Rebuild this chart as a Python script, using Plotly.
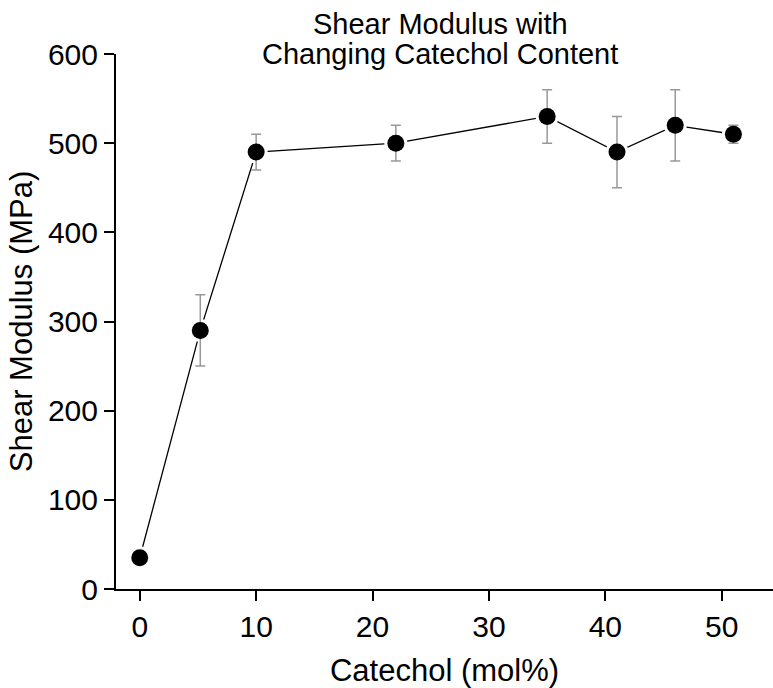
import plotly.graph_objects as go

catechol = [0, 5.2, 10, 22, 35, 41, 46, 51]
modulus = [35, 290, 490, 500, 530, 490, 520, 510]
err = [6, 40, 20, 20, 30, 40, 40, 10]

x_ticks = [0, 10, 20, 30, 40, 50]
y_ticks = [0, 100, 200, 300, 400, 500, 600]

title_lines = ["Shear Modulus with", "Changing Catechol Content"]

FONT = "Liberation Sans, Arial, sans-serif"

fig = go.Figure()
fig.add_trace(go.Scatter(x=catechol, y=modulus, mode="lines",
                         line=dict(color="black", width=1.3), showlegend=False, hoverinfo="skip"))
fig.add_trace(go.Scatter(x=catechol, y=modulus, mode="markers",
                         marker=dict(color="white", size=23), showlegend=False, hoverinfo="skip"))
fig.add_trace(go.Scatter(x=catechol, y=modulus, mode="markers",
                         marker=dict(color="black", size=17),
                         error_y=dict(type="data", array=err, visible=True,
                                      color="#999999", thickness=1.5, width=5),
                         showlegend=False))

fig.update_layout(
    width=773, height=688,
    margin=dict(l=116, r=0, t=54, b=99),
    plot_bgcolor="white", paper_bgcolor="white",
    font=dict(family=FONT, size=30, color="black"),
)
# two-line title
fig.add_annotation(text=title_lines[0], xref="paper", yref="paper",
                   x=(440 - 116) / 657, y=(589 - 24) / 535, xanchor="center", yanchor="middle",
                   showarrow=False, font=dict(family=FONT, size=29, color="black"))
fig.add_annotation(text=title_lines[1], xref="paper", yref="paper",
                   x=(440 - 116) / 657, y=(589 - 54) / 535, xanchor="center", yanchor="middle",
                   showarrow=False, font=dict(family=FONT, size=29, color="black"))

fig.update_xaxes(range=[-2.04, 54.4], tickvals=x_ticks, ticktext=[str(v) for v in x_ticks],
                 showline=True, linecolor="black", linewidth=2,
                 ticks="outside", ticklen=10, tickwidth=2, tickcolor="black",
                 showgrid=False, zeroline=False,
                 title=dict(text="Catechol (mol%)", standoff=22, font=dict(size=31)),
                 tickfont=dict(size=30))
fig.update_yaxes(range=[0, 600], tickvals=y_ticks, ticktext=[str(v) for v in y_ticks],
                 showline=True, linecolor="black", linewidth=2,
                 ticks="outside", ticklen=10, tickwidth=2, tickcolor="black",
                 showgrid=False, zeroline=False,
                 title=dict(text="Shear Modulus (MPa)", standoff=6, font=dict(size=31)),
                 tickfont=dict(size=30))

fig.write_html("out.html")
